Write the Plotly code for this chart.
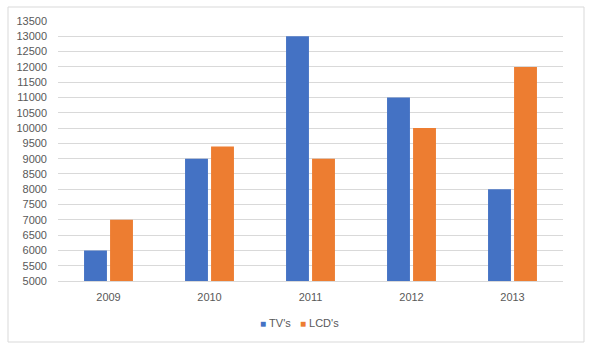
import plotly.graph_objects as go

years = ["2009", "2010", "2011", "2012", "2013"]
tvs = [6000, 9000, 13000, 11000, 8000]
lcds = [7000, 9400, 9000, 10000, 12000]
y_ticks = list(range(5000, 13501, 500))
series_names = ["TV's", "LCD's"]
series_colors = ["#4472C4", "#ED7D31"]

font_fam = "Liberation Sans, Arial, sans-serif"
gray = "#595959"

fig = go.Figure()
for name, vals, col in zip(series_names, [tvs, lcds], series_colors):
    fig.add_trace(go.Bar(x=years, y=vals, name=name, marker_color=col, marker_line_width=0))

L, R, T, B = 58, 31, 21, 71
W, H = 594, 352
pw, ph = W - L - R, H - T - B

def px(x):
    return (x - L) / pw

def py(y):
    return (H - B - y) / ph

legend_text = "&nbsp;&nbsp;&nbsp;".join(
    f"<span style='color:{c};font-size:10px'>■</span>&nbsp;{n}" for n, c in zip(series_names, series_colors)
)

fig.update_layout(
    width=W, height=H,
    margin=dict(l=L, r=R, t=T, b=B),
    paper_bgcolor="white", plot_bgcolor="white",
    barmode="group", bargap=0.485, bargroupgap=0.12,
    font=dict(family=font_fam, size=11, color=gray),
    showlegend=False,
    xaxis=dict(showgrid=False, showline=True, linecolor="#D9D9D9", linewidth=1,
               ticks="", ticklabelstandoff=6, tickfont=dict(size=11, color=gray)),
    yaxis=dict(range=[5000, 13500], tickvals=y_ticks, ticktext=[str(v) for v in y_ticks],
               showgrid=True, gridcolor="#D9D9D9",
               gridwidth=1, zeroline=False, showline=False, ticks="", ticklabelstandoff=10,
               tickfont=dict(size=11, color=gray)),
    shapes=[dict(type="rect", xref="paper", yref="paper",
                 x0=px(8), x1=px(584), y0=py(342), y1=py(7),
                 line=dict(color="#D9D9D9", width=1), fillcolor="rgba(0,0,0,0)", layer="below")],
    annotations=[dict(text=legend_text, xref="paper", yref="paper", x=px(299), y=py(323),
                      xanchor="center", yanchor="middle", showarrow=False,
                      font=dict(size=11, color=gray))],
)

fig.write_html("out.html")
